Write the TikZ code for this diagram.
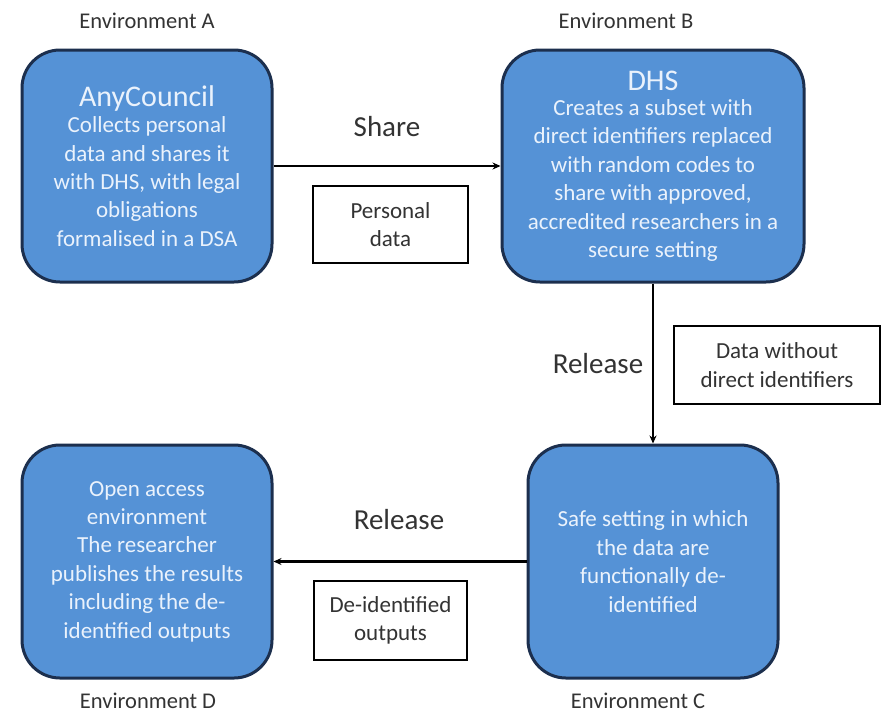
\documentclass[tikz,border=0pt]{standalone}
\usepackage{fontspec}
\setmainfont{Carlito}
\usetikzlibrary{arrows.meta}
\definecolor{envfill}{HTML}{5592D6}
\definecolor{envedge}{HTML}{1C2F4E}
\definecolor{envtext}{HTML}{EAF2FC}
\definecolor{lbltext}{HTML}{333333}
\tikzset{
  envbox/.style={draw=envedge, line width=3pt, fill=envfill, rounded corners=38pt,
    text=envtext, align=center, inner sep=0pt,
    font=\fontsize{23}{28.4}\selectfont},
  databox/.style={draw=black, line width=2.6pt, fill=white, text=lbltext,
    align=center, inner sep=0pt, font=\fontsize{23}{28.4}\selectfont},
  envlabel/.style={text=lbltext, font=\fontsize{22.5}{26}\selectfont, inner sep=0pt},
  flowlabel/.style={text=lbltext, font=\fontsize{29}{32}\selectfont, inner sep=0pt},
  flow/.style={draw=black, line width=2.4pt, -{Stealth[length=8pt,width=7pt]}}
}
\begin{document}
\begin{tikzpicture}[x=1pt,y=-1pt]
\useasboundingbox (0,0) rectangle (885,716);
\fill[white] (0,0) rectangle (885,716);

\node[envbox, minimum width=250pt, minimum height=232pt] (A) at (147,166)
  {{\fontsize{30}{32}\selectfont AnyCouncil}\\[-2pt]
   Collects personal\\data and shares it\\with DHS, with legal\\obligations\\formalised in a DSA};
\node[envbox, minimum width=302pt, minimum height=232pt] (B) at (653,166)
  {{\fontsize{30}{32}\selectfont DHS}\\[-3pt]
   Creates a subset with\\direct identifiers replaced\\with random codes to\\share with approved,\\accredited researchers in a\\secure setting};
\node[envbox, minimum width=250pt, minimum height=233pt] (C) at (653,561.5)
  {Safe setting in which\\the data are\\functionally de-\\identified};
\node[envbox, minimum width=250pt, minimum height=233pt] (D) at (147,561.5)
  {Open access\\environment\\The researcher\\publishes the results\\including the de-\\identified outputs};

\node[envlabel] (labA) at (147,21) {Environment A};
\node[envlabel] (labB) at (626,21) {Environment B};
\node[envlabel] (labC) at (638,701) {Environment C};
\node[envlabel] (labD) at (148,701) {Environment D};

\draw[flow] (A.east) -- (B.west);
\draw[flow] (B.south) -- (C.north);
\draw[flow] (C.west) -- (D.east);

\node[flowlabel] (share) at (387,127) {Share};
\node[flowlabel] (rel1) at (598,364) {Release};
\node[flowlabel] (rel2) at (399,520) {Release};

\node[databox, minimum width=155pt, minimum height=77pt] (pd) at (390.5,224.5) {Personal\\data};
\node[databox, minimum width=206pt, minimum height=78pt] (dw) at (777,365) {Data without\\direct identifiers};
\node[databox, minimum width=153pt, minimum height=79pt] (di) at (390.5,620.5) {De-identified\\outputs};
\end{tikzpicture}
\end{document}
